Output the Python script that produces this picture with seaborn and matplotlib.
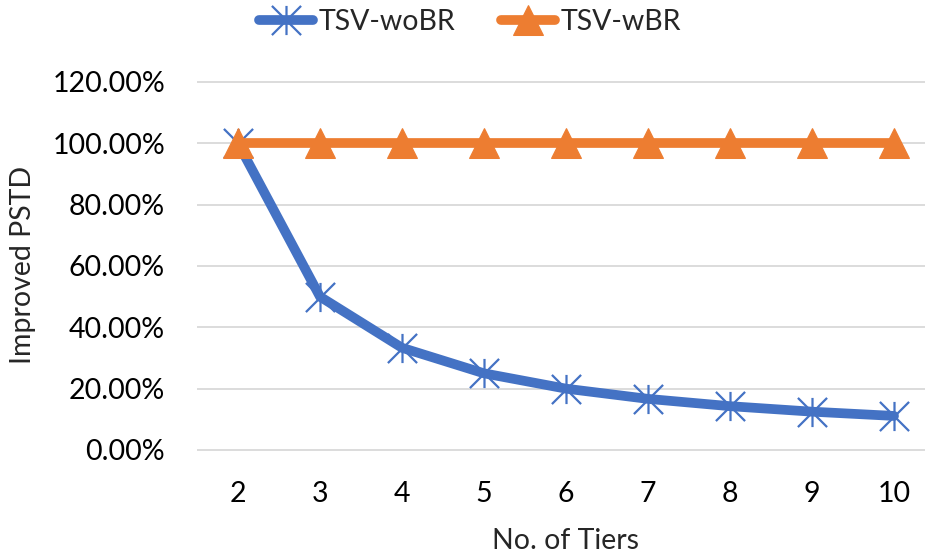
import numpy as np
import pandas as pd
import seaborn as sns
import matplotlib
matplotlib.use("Agg")
import matplotlib.pyplot as plt
from matplotlib.ticker import FuncFormatter
from matplotlib.path import Path

tiers = [2, 3, 4, 5, 6, 7, 8, 9, 10]
tsv_wobr = [1.0, 0.5, 0.3333, 0.25, 0.20, 0.1667, 0.1429, 0.125, 0.1111]
tsv_wbr = [1.0, 1.0, 1.0, 1.0, 1.0, 1.0, 1.0, 1.0, 1.0]
y_ticks = [0.0, 0.2, 0.4, 0.6, 0.8, 1.0, 1.2]

df = pd.DataFrame({
    "tiers": tiers * 2,
    "value": tsv_wobr + tsv_wbr,
    "series": ["TSV-woBR"] * len(tiers) + ["TSV-wBR"] * len(tiers),
})

sns.set_theme(style="white")
plt.rcParams["font.family"] = ["Lato", "DejaVu Sans"]

W, H = 925, 556
fig = plt.figure(figsize=(W / 100, H / 100), dpi=100)

# plot area in pixels
left, right = 197, 935
y0_px, y120_px = 450, 82          # rows of the 0% and 120% grid lines
top_px, bot_px = 60, 470
ax = fig.add_axes([left / W, 1 - bot_px / H, (right - left) / W, (bot_px - top_px) / H])

blue = "#4472C4"
orange = "#ED7D31"

# star marker: an X with a vertical stroke through it
star = Path(
    [(-1, -1), (1, 1), (-1, 1), (1, -1), (0, -1), (0, 1)],
    [Path.MOVETO, Path.LINETO, Path.MOVETO, Path.LINETO, Path.MOVETO, Path.LINETO],
)

sns.lineplot(data=df[df.series == "TSV-woBR"], x="tiers", y="value", ax=ax,
             color=blue, lw=7, marker=star, markersize=21,
             markeredgecolor=blue, markerfacecolor="none", markeredgewidth=1.6,
             label="TSV-woBR")
sns.lineplot(data=df[df.series == "TSV-wBR"], x="tiers", y="value", ax=ax,
             color=orange, lw=7, marker="^", markersize=22,
             markeredgecolor=orange, markerfacecolor=orange, label="TSV-wBR")

ax.set_xlim(1.5, 10.5)
ppu = (y0_px - y120_px) / 1.2
ax.set_ylim(-(bot_px - y0_px) / ppu, 1.2 + (y120_px - top_px) / ppu)

ax.set_xticks(tiers)
ax.set_yticks(y_ticks)
ax.yaxis.set_major_formatter(FuncFormatter(lambda v, p: f"{v * 100:.2f}%"))
ax.grid(axis="y", color="#D9D9D9", lw=1.3)
ax.grid(axis="x", visible=False)
for s in ax.spines.values():
    s.set_visible(False)
ax.tick_params(axis="both", length=0, labelsize=20.5, colors="#000000")
ax.tick_params(axis="x", pad=8)
ax.tick_params(axis="y", pad=23)

ax.set_xlabel("No. of Tiers", fontsize=20.5, labelpad=15)
ax.set_ylabel("Improved PSTD", fontsize=20.5, labelpad=12)

leg = ax.legend(loc="upper center", bbox_to_anchor=(470 / W, 1.005), bbox_transform=fig.transFigure,
                ncol=2, frameon=False, fontsize=20.5, handlelength=1.9, columnspacing=1.6,
                handletextpad=0.2, borderaxespad=0.0)

fig.savefig("out.png", dpi=100)
